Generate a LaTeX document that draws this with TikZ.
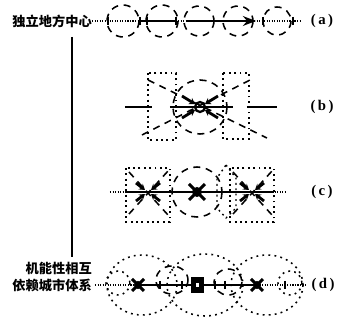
\documentclass[tikz,border=0pt]{standalone}
\usepackage{fontspec}
\newfontfamily\cjk{Noto Sans CJK SC}
\newfontfamily\lblfont{Liberation Serif}
\usetikzlibrary{arrows.meta,positioning,calc}

\begin{document}
\begin{tikzpicture}[
  x=0.025cm, y=-0.025cm,
  >=Stealth,
  axis/.style={line width=1.4pt},
  rowline/.style={line width=0.8pt},
  mainline/.style={line width=1.4pt},
  dashring/.style={line width=1.1pt, dash pattern=on 5pt off 4pt},
  dotring/.style={line width=1.1pt, dash pattern=on 1.3pt off 3pt},
  dotbox/.style={line width=1pt, dash pattern=on 1.3pt off 2.5pt},
  pull/.style={line width=2pt, -{Stealth[length=4pt,width=5pt]}},
  stagelbl/.style={font=\lblfont\bfseries\fontsize{10.5}{11}\selectfont, inner sep=0pt},
  cnlbl/.style={font=\cjk\bfseries\fontsize{9.4}{12.5}\selectfont, inner sep=0pt, align=right}
]
\useasboundingbox (0,0) rectangle (344,322);

% names of the two ends of the sequence
\node[cnlbl, anchor=east] (indep) at (92,21) {独立地方中心};
\node[cnlbl, anchor=east] (system) at (92,277) {机能性相互\\依赖城市体系};
\coordinate (axtop) at (72,37);
\coordinate (axbot) at (72,257);
\draw[axis] (axtop) -- (axbot);

% (a) isolated centres
\coordinate (aend) at (300,21);
\draw[rowline, densely dotted] (indep.east) -- (aend);
\draw[mainline, ->] (186,21) -- (256,21);
\draw[rowline] (140,21) -- (176,21);
\foreach \tx in {108,140,147,176,263,293}
  \draw[rowline] (\tx,17) -- (\tx,25);
\foreach \cx/\r in {123/16,162/16,199/15,238/15,277/14}
  \draw[dashring] (\cx,21) circle (\r);
\node[stagelbl] (la) at (322,21) {(\,a\,)};

% (b) one centre grows
\coordinate (b0) at (200,107);
\draw[rowline] (125,107) -- (152,107);
\draw[mainline] (170,107) -- (233,107);
\draw[rowline] (247,107) -- (277,107);
\draw[dashring] (b0) circle (27);
\draw[line width=1.6pt] (b0) circle (5);
\draw[dotbox] (148,73) rectangle (176,140);
\draw[dotbox] (223,73) rectangle (249,139);
\draw[dashring] (148,80) -- (267,138);
\draw[dashring] (142,135) -- (250,80);
\draw[pull] (182,96) -- (195,104);
\draw[pull] (182,118) -- (195,110);
\draw[pull] (218,96) -- (205,104);
\draw[pull] (218,118) -- (205,110);
\node[stagelbl] (lb) at (322,107) {(\,b\,)};

% (c) secondary centres
\coordinate (c0) at (197,192);
\draw[rowline, densely dotted] (110,192) -- (285,192);
\draw[mainline] (126,192) -- (274,192);
\draw[dashring] (c0) circle (25);
\fill (c0) circle (5);
\draw[line width=2.2pt] (189,184) -- (205,200) (189,200) -- (205,184);
\foreach \sx in {148,252}{
  \draw[dotbox] (\sx-22,168) rectangle (\sx+22,222);
  \draw[dashring] (\sx-19,172) -- (\sx+20,215);
  \draw[dashring] (\sx-19,214) -- (\sx+20,171);
  \draw[pull] (\sx-12,183) -- (\sx-3,190);
  \draw[pull] (\sx-12,201) -- (\sx-3,194);
  \draw[pull] (\sx+12,183) -- (\sx+3,190);
  \draw[pull] (\sx+12,201) -- (\sx+3,194);
}
\draw[dotbox] (226,165) -- (236,178) -- (236,208) -- (226,218)
  -- (217,208) -- (217,178) -- cycle;
\node[stagelbl] (lc) at (322,192) {(\,c\,)};

% (d) interdependent system
\coordinate (d0) at (95,285);
\coordinate (dend) at (306,285);
\draw[rowline, densely dotted] (d0) -- (dend);
\draw[mainline] (138,285) -- (258,285);
\draw[dotring] (142,285) ellipse (35 and 30);
\draw[dotring] (205,285) ellipse (38 and 31);
\draw[dotring] (267,285) ellipse (36 and 30);
\draw[dotring] (118,283) circle (12);
\draw[dotring] (290,283) circle (12);
\draw[dashring] (172,280) ellipse (16 and 14);
\draw[dashring] (228,282) ellipse (14 and 13);
\foreach \tx in {160,182,215,225,285}
  \draw[rowline] (\tx,281) -- (\tx,289);
\foreach \mx in {138,257}{
  \fill (\mx,285) circle (4);
  \draw[line width=2.2pt] (\mx-6,279) -- (\mx+6,291) (\mx-6,291) -- (\mx+6,279);
}
\fill (191,277) rectangle (204,293);
\fill[white] (196,283) rectangle (199,287);
\node[stagelbl] (ld) at (323,285) {(\,d\,)};
\end{tikzpicture}
\end{document}
